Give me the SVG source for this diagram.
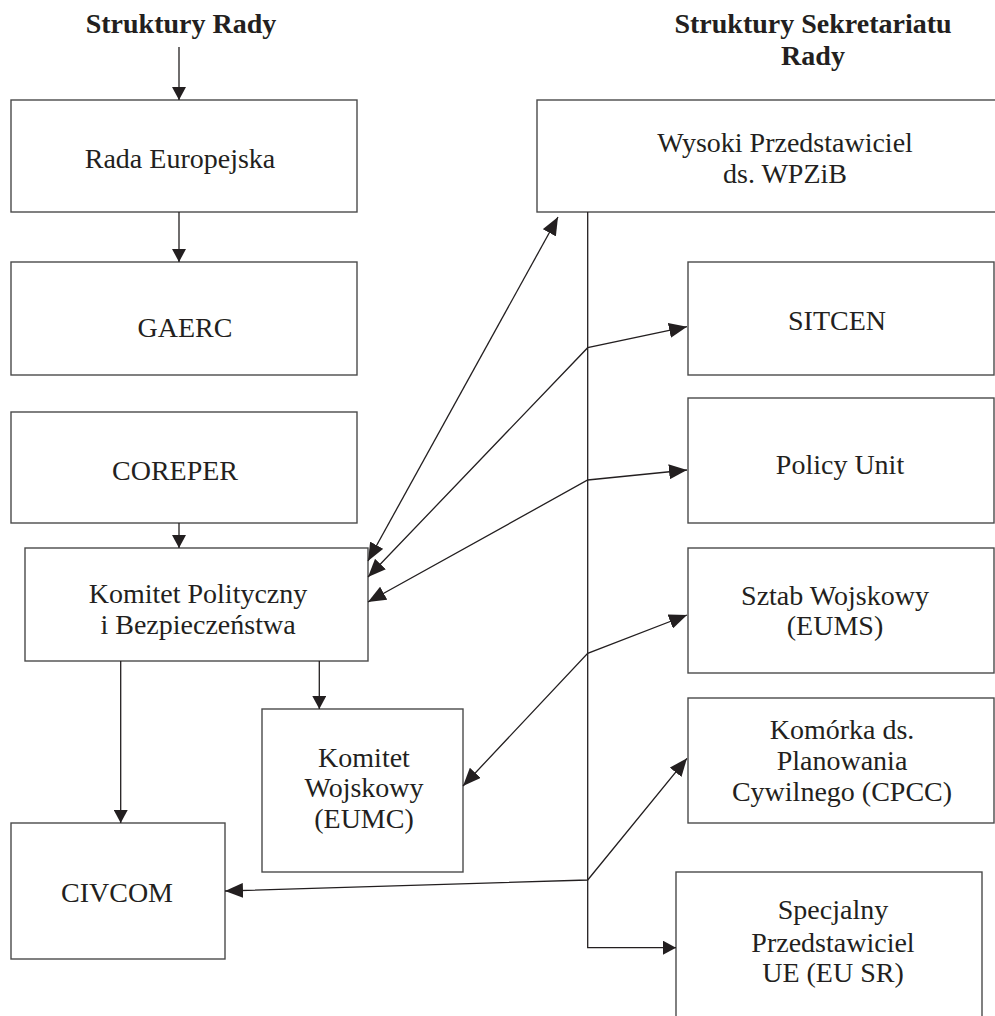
<svg xmlns="http://www.w3.org/2000/svg" width="995" height="1016" viewBox="0 0 995 1016">
<style>
.box{fill:#fff;stroke:#4a4a4a;stroke-width:1.4}
.t{font-family:"Liberation Serif","Times New Roman",serif;font-size:28px;fill:#231f20;text-anchor:middle}
.h{font-family:"Liberation Serif","Times New Roman",serif;font-size:28px;font-weight:bold;fill:#231f20;text-anchor:middle}
.c{fill:none;stroke:#231f20;stroke-width:1.3}
</style>
<defs>
<marker id="ah" markerUnits="userSpaceOnUse" markerWidth="14" markerHeight="14" refX="13" refY="7" orient="auto-start-reverse" viewBox="0 0 14 14">
<path d="M0,0 L13,7 L0,14 z" fill="#231f20"/>
</marker>
<marker id="ad" markerUnits="userSpaceOnUse" markerWidth="19" markerHeight="15" refX="18" refY="7.5" orient="auto-start-reverse" viewBox="0 0 19 15">
<path d="M0,0 L18,7.5 L0,15 z" fill="#231f20"/>
</marker>
</defs>
<rect width="995" height="1016" fill="#fff"/>
<g id="headers">
<text class="h" x="181" y="33">Struktury Rady</text>
<text class="h" x="813" y="33">Struktury Sekretariatu</text>
<text class="h" x="813" y="65">Rady</text>
</g>
<g id="rada"><rect class="box" x="11" y="100" width="346" height="112"/><text class="t" x="180" y="168">Rada Europejska</text></g>
<g id="gaerc"><rect class="box" x="11" y="262" width="346" height="113"/><text class="t" x="185" y="336.5">GAERC</text></g>
<g id="coreper"><rect class="box" x="11" y="412" width="346" height="111"/><text class="t" x="175" y="480">COREPER</text></g>
<g id="kpib"><rect class="box" x="25" y="548" width="343" height="113"/><text class="t" x="198" y="603">Komitet Polityczny</text><text class="t" x="198" y="634">i Bezpieczeństwa</text></g>
<g id="eumc"><rect class="box" x="262" y="709" width="201" height="163"/><text class="t" x="364" y="766.5">Komitet</text><text class="t" x="364" y="797">Wojskowy</text><text class="t" x="364" y="827.5">(EUMC)</text></g>
<g id="civcom"><rect class="box" x="11" y="823" width="214" height="136"/><text class="t" x="117" y="902">CIVCOM</text></g>
<g id="wpzib"><rect class="box" x="537" y="100" width="470" height="112"/><text class="t" x="785" y="151.5">Wysoki Przedstawiciel</text><text class="t" x="785" y="182.5">ds. WPZiB</text></g>
<g id="sitcen"><rect class="box" x="688" y="262" width="306" height="113"/><text class="t" x="837" y="330">SITCEN</text></g>
<g id="policy"><rect class="box" x="688" y="398" width="306" height="125"/><text class="t" x="840" y="474">Policy Unit</text></g>
<g id="eums"><rect class="box" x="688" y="548" width="306" height="125"/><text class="t" x="835" y="605">Sztab Wojskowy</text><text class="t" x="835" y="635">(EUMS)</text></g>
<g id="cpcc"><rect class="box" x="688" y="698" width="306" height="125"/><text class="t" x="842" y="739">Komórka ds.</text><text class="t" x="842" y="770">Planowania</text><text class="t" x="842" y="800.5">Cywilnego (CPCC)</text></g>
<g id="eusr"><rect class="box" x="676" y="872" width="306" height="170"/><text class="t" x="833" y="919">Specjalny</text><text class="t" x="833" y="951.5">Przedstawiciel</text><text class="t" x="833" y="981.5">UE (EU SR)</text></g>
<g id="connectors">
<path class="c" d="M179,47 V100" marker-end="url(#ah)"/>
<path class="c" d="M179,212 V262" marker-end="url(#ah)"/>
<path class="c" d="M179,523 V548" marker-end="url(#ah)"/>
<path class="c" d="M120.7,661 V823" marker-end="url(#ah)"/>
<path class="c" d="M319.3,661 V709" marker-end="url(#ah)"/>
<path class="c" d="M587.7,212 V947.7 H676" marker-end="url(#ah)"/>
<path class="c" d="M368,561 L558,217" marker-start="url(#ad)" marker-end="url(#ad)"/>
<path class="c" d="M368,577 L587.7,347.7 L687,326.7" marker-start="url(#ad)" marker-end="url(#ad)"/>
<path class="c" d="M368,602 L587.7,480 L687,470" marker-start="url(#ad)" marker-end="url(#ad)"/>
<path class="c" d="M463,786 L587.7,653.3 L687,615" marker-start="url(#ad)" marker-end="url(#ad)"/>
<path class="c" d="M225,891 L587.7,880 L687,758.3" marker-start="url(#ad)" marker-end="url(#ad)"/>
</g>
</svg>
